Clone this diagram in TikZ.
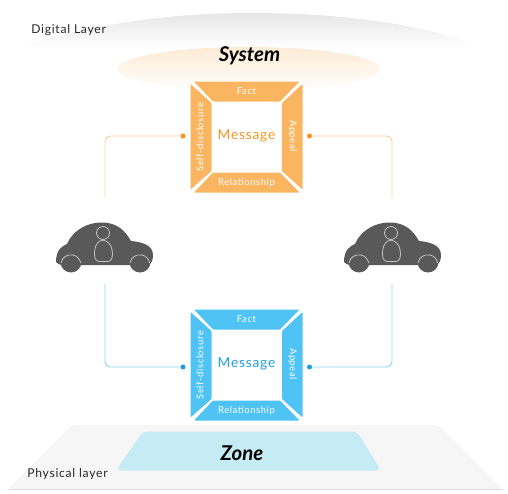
\documentclass[tikz,border=0pt]{standalone}
\usepackage{fontspec}
\setmainfont{Lato}
\newfontfamily\spacedfont[LetterSpace=6]{Lato}
\usepackage{xcolor}
\definecolor{msgorange}{HTML}{F9B55F}
\definecolor{dotorange}{HTML}{F7931E}
\definecolor{lineorange}{HTML}{FBCF98}
\definecolor{msgblue}{HTML}{4FC3F4}
\definecolor{dotblue}{HTML}{1C9FD8}
\definecolor{lineblue}{HTML}{8FD6F5}
\definecolor{cargray}{HTML}{595959}
\definecolor{zonefill}{HTML}{C5EBF4}
\definecolor{floorfill}{HTML}{F6F6F6}
\definecolor{digitalgray}{HTML}{E6E6E6}
\definecolor{systempeach}{HTML}{FDEBD6}
\newcommand{\mypanel}[4]{% y offset, fill, text, node prefix
  \begin{scope}[yshift=#1*-0.02cm]
    \fill [#2,rounded corners=0.5pt] (194,81.5) -- (299.5,81.5) -- (280,101.5) -- (213,101.5) -- cycle;
    \fill [#2,rounded corners=0.5pt] (190.5,84) -- (211.5,103) -- (211.5,171) -- (190.5,189.5) -- cycle;
    \fill [#2,rounded corners=0.5pt] (302.5,84) -- (282,103) -- (282,171) -- (302.5,189.5) -- cycle;
    \fill [#2,rounded corners=0.5pt] (194,192.5) -- (213,172.5) -- (280,172.5) -- (299.5,192.5) -- cycle;
    \node (#4fact) [msgtxt] at (246.5,91) {Fact};
    \node (#4rel) [msgtxt] at (246.5,183) {Relationship};
    \node (#4self) [msgtxt,rotate=90] at (200,137) {Self-disclosure};
    \node (#4appeal) [msgtxt,rotate=-90] at (292.5,136) {Appeal};
    \node (#4msg) [text=#3,font=\spacedfont\fontsize{7.8}{10}\selectfont] at (246.5,136) {Message};
  \end{scope}
}
\newcommand{\mycar}[1]{% x offset
  \begin{scope}[xshift=#1*0.02cm]
    \fill [cargray] (56,262) .. controls (56,250) and (62,246) .. (67,244)
      .. controls (72,232) and (85,222.5) .. (102,222.5)
      .. controls (116,222.5) and (125,230) .. (131,241)
      .. controls (142,242) and (153,245) .. (153,255)
      .. controls (153,259) and (152,264) .. (148,265)
      -- (63,265) .. controls (60,265) and (57,264) .. (56,262) -- cycle;
    \fill [cargray] (71,262) circle [radius=10.5];
    \fill [cargray] (140,262) circle [radius=10.5];
    \draw [carline] (61,263) arc [start angle=190,end angle=350,radius=10];
    \draw [carline] (130,263) arc [start angle=190,end angle=350,radius=10];
    \draw [carline] (103,233) circle [radius=6.5];
    \draw [carline] (100,241) .. controls (96,243) and (94.5,248) .. (94.5,254)
      .. controls (94.5,260) and (97,261.5) .. (100,261.5) -- (107,261.5)
      .. controls (110,261.5) and (112.5,260) .. (112.5,254)
      .. controls (112.5,248) and (110,243) .. (106,241)
      .. controls (104,240) and (102,240) .. (100,241) -- cycle;
  \end{scope}
}
\begin{document}
\begin{tikzpicture}[
  x=0.02cm,y=-0.02cm,
  msgtxt/.style={text=white,font=\spacedfont\fontsize{5.4}{7}\selectfont},
  layertxt/.style={text=black!85,inner sep=0pt,font=\spacedfont\fontsize{6.9}{9}\selectfont},
  bigtxt/.style={text=black,font=\fontsize{11.6}{14}\selectfont\bfseries\itshape},
  carline/.style={draw=white!65!cargray,line width=0.45pt},
  orangeline/.style={draw=lineorange,line width=0.55pt,rounded corners=3pt},
  blueline/.style={draw=lineblue,line width=0.55pt,rounded corners=3pt},
  dotnode/.style={circle,inner sep=0pt,minimum size=0.1cm},
]
\useasboundingbox (0,0) rectangle (508,494);

% layers, the fades are thin strips
\begin{scope}
  \clip (20,47) .. controls (90,25) and (170,13) .. (250,13)
    .. controls (340,13) and (430,25) .. (478,47) -- cycle;
  \foreach \i in {0,...,33} {
    \pgfmathsetmacro{\mix}{100*(1-\i/34)}
    \fill [digitalgray!\mix!white] (0,13+\i) rectangle (508,14.5+\i);
  }
\end{scope}
\begin{scope}
  \clip (249,69) ellipse [x radius=131,y radius=22];
  \foreach \i in {0,...,43} {
    \pgfmathsetmacro{\mix}{100*(1-\i/44)}
    \fill [systempeach!\mix!white] (100,47+\i) rectangle (400,48.5+\i);
  }
\end{scope}
\fill [floorfill,rounded corners=2pt] (8,489) -- (72,425) -- (438,425) -- (503,489) -- cycle;
\draw [black!12,line width=0.5pt] (8,489.5) -- (503,489.5);
\fill [zonefill,rounded corners=3pt] (116,470.5) -- (143,431.5) -- (357,431.5) -- (381,470.5) -- cycle;

\node (digital) [layertxt,anchor=west] at (31,30) {Digital Layer};
\node (physical) [layertxt,anchor=west] at (27,474.5) {Physical layer};
\node (system) [bigtxt] at (249.5,56) {System};
\node (zone) [bigtxt] at (242,453.5) {Zone};

% message panels
\mypanel{0}{msgorange}{dotorange}{o}
\mypanel{228}{msgblue}{dotblue}{b}

% cars
\mycar{0}
\mycar{288}

% connectors
\coordinate (carLtop) at (105,198);
\coordinate (carRtop) at (392,198);
\coordinate (carLbot) at (105,284);
\coordinate (carRbot) at (392,284);
\node (oL) [dotnode,fill=dotorange] at (183,136) {};
\node (oR) [dotnode,fill=dotorange] at (309.5,136) {};
\node (bL) [dotnode,fill=dotblue] at (183,367) {};
\node (bR) [dotnode,fill=dotblue] at (309.5,367) {};
\draw [orangeline] (oL) -| (carLtop);
\draw [orangeline] (oR) -| (carRtop);
\draw [blueline] (bL) -| (carLbot);
\draw [blueline] (bR) -| (carRbot);

\end{tikzpicture}
\end{document}
